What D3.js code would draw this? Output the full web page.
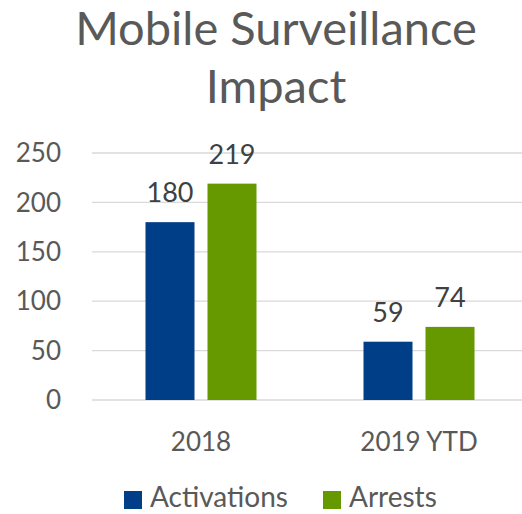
<!DOCTYPE html>
<html><head><meta charset="utf-8">
<script src="https://cdn.jsdelivr.net/npm/d3@7"></script>
<style>body{margin:0;background:#fff}svg{display:block}</style>
</head><body>
<svg id="c" width="522" height="514"></svg>
<script>
const categories = ["2018", "2019 YTD"];
const seriesNames = ["Activations", "Arrests"];
const activations = [180, 59];
const arrests = [219, 74];
const yTicks = [0, 50, 100, 150, 200, 250];
const colors = ["#003F87", "#669900"];

const svg = d3.select("#c");
const font = "Lato, 'Open Sans', sans-serif";
const textColor = "#595959";

const x = d3.scaleBand().domain(categories).range([92, 528]).paddingInner(0).paddingOuter(0);
const xs = d3.scaleBand().domain(seriesNames).range([53.5, 218 - 53.5]).paddingInner(13 / 62);
const y = d3.scaleLinear().domain([0, 250]).range([400, 153]);

// gridlines
svg.append("g").selectAll("line").data(yTicks).join("line")
  .attr("x1", 92).attr("x2", 522)
  .attr("y1", d => y(d)).attr("y2", d => y(d))
  .attr("stroke", "#d9d9d9").attr("stroke-width", 1.3);

// y labels
svg.append("g").selectAll("text").data(yTicks).join("text")
  .attr("x", 61).attr("y", d => y(d)).attr("dy", "0.35em")
  .attr("text-anchor", "end").attr("font-family", font).attr("font-size", 26)
  .attr("fill", textColor).text(d => d);

const data = categories.map((c, i) => ({ c, vals: [activations[i], arrests[i]] }));
const g = svg.append("g");
data.forEach(d => {
  d.vals.forEach((v, j) => {
    const bx = x(d.c) + xs(seriesNames[j]);
    g.append("rect").attr("x", bx).attr("y", y(v))
      .attr("width", xs.bandwidth()).attr("height", y(0) - y(v)).attr("fill", colors[j]);
    g.append("text").attr("x", bx + xs.bandwidth() / 2).attr("y", y(v) - 20)
      .attr("text-anchor", "middle").attr("font-family", font).attr("font-size", 27)
      .attr("fill", "#404040").text(v);
  });
});

// x labels
svg.append("g").selectAll("text").data(categories).join("text")
  .attr("x", d => x(d) + x.bandwidth() / 2).attr("y", 451)
  .attr("text-anchor", "middle").attr("font-family", font).attr("font-size", 26)
  .attr("fill", textColor).text(d => d);

// title
svg.append("text").attr("x", 276).attr("y", 45).attr("text-anchor", "middle")
  .attr("font-family", font).attr("font-size", 47).attr("fill", textColor).text("Mobile Surveillance");
svg.append("text").attr("x", 276).attr("y", 103).attr("text-anchor", "middle")
  .attr("font-family", font).attr("font-size", 47).attr("fill", textColor).text("Impact");

// legend
const legX = [124, 323];
seriesNames.forEach((s, i) => {
  svg.append("rect").attr("x", legX[i]).attr("y", 491).attr("width", 18).attr("height", 18).attr("fill", colors[i]);
  svg.append("text").attr("x", legX[i] + 26).attr("y", 507).attr("font-family", font).attr("font-size", 28)
    .attr("fill", textColor).text(s);
});
</script>
</body></html>
